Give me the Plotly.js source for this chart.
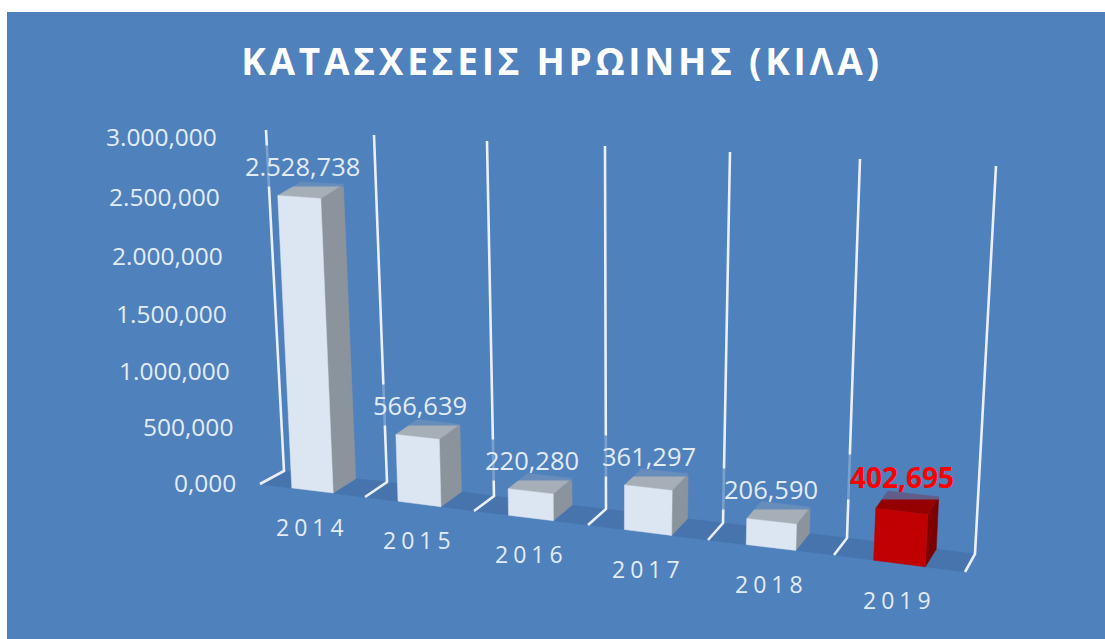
<!DOCTYPE html>
<html>
<head>
<meta charset="utf-8">
<script src="https://cdn.plot.ly/plotly-3.0.1.min.js"></script>
<style>
html,body{margin:0;padding:0;background:#fff;overflow:hidden}
#chart{width:1105px;height:639px}
.gtitle{letter-spacing:3.7px}
</style>
</head>
<body>
<div id="chart"></div>
<script>
// ---- data ----
const categories = ['2014','2015','2016','2017','2018','2019'];
const heroinKg = [2528738, 566639, 220280, 361297, 206590, 402695];
const valueLabels = ['2.528,738','566,639','220,280','361,297','206,590','402,695'];
const tickValues = [0, 500000, 1000000, 1500000, 2000000, 2500000, 3000000];
const tickLabels = ['0,000','500,000','1.000,000','1.500,000','2.000,000','2.500,000','3.000,000'];
const titleText = 'ΚΑΤΑΣΧΕΣΕΙΣ ΗΡΩΙΝΗΣ (ΚΙΛΑ)';

// ---- perspective calibration of the 3D box (screen pixels at each category boundary) ----
const axisMax = 3000000;
const wallTop  = [[266,130],[374,135],[487,141],[605,146],[730,152],[860,159],[996,166]];
const wallBase = [[284,471],[387,482],[494,496],[606,509],[723,523],[847,538],[975,554]];
const floorEdge= [[260,484],[365,497],[474,511],[588,525],[708,540],[834,555],[965,572]];
const barHalfWidth = 0.197;
const barHeightScale = 1.012;

function at(arr,u){
  const i=Math.min(Math.floor(u),arr.length-2), f=u-i;
  return [arr[i][0]+(arr[i+1][0]-arr[i][0])*f, arr[i][1]+(arr[i+1][1]-arr[i][1])*f];
}
function project(u,d,v){
  const b=at(wallBase,u), t=at(wallTop,u), e=at(floorEdge,u), h=barHeightScale*v/axisMax;
  return [b[0]+(e[0]-b[0])*d+h*(t[0]-b[0]), b[1]+(e[1]-b[1])*d+h*(t[1]-b[1])];
}
function poly(points,color,name){
  const pts=points.concat([points[0]]);
  return {type:'scatter',mode:'lines',x:pts.map(p=>p[0]),y:pts.map(p=>p[1]),fill:'toself',
    fillcolor:color,line:{color:color,width:0.5},hoverinfo:'skip',showlegend:false,name:name};
}

const traces=[];
// floor
const floorPts=wallBase.concat(floorEdge.slice().reverse());
traces.push(poly(floorPts,'#4774ad','floor'));
// grid lines
wallTop.forEach((t,i)=>{
  traces.push({type:'scatter',mode:'lines',x:[t[0],wallBase[i][0],floorEdge[i][0]],y:[t[1],wallBase[i][1],floorEdge[i][1]],
    line:{color:'rgba(242,246,252,0.95)',width:2.6},hoverinfo:'skip',showlegend:false});
});
// columns
heroinKg.forEach((v,i)=>{
  const c=i+0.5, L=c-barHalfWidth, R=c+barHalfWidth;
  const red=i===heroinKg.length-1;
  const colFront=red?'#c00000':'#dce6f2', colSide=red?'#7c0000':'#8b949d', colTop=red?'#950000':'#a6afb7';
  traces.push(poly([project(R,1,v),project(R,1,0),project(R,0,0),project(R,0,v)],colSide,categories[i]+' side'));
  traces.push(poly([project(L,1,v),project(R,1,v),project(R,0,v),project(L,0,v)],colTop,categories[i]+' top'));
  traces.push(poly([project(L,1,v),project(R,1,v),project(R,1,0),project(L,1,0)],colFront,categories[i]));
});

const textColor='#e3ebf5', labelFont='"Open Sans", sans-serif';
const annotations=[];
// value labels with their translucent box
heroinKg.forEach((v,i)=>{
  const top=project(i+0.5,0.5,v), red=i===heroinKg.length-1;
  annotations.push({x:top[0]-(red?6:8),y:top[1]-(red?26:24),xref:'x',yref:'y',text:valueLabels[i],showarrow:false,
    xanchor:'center',yanchor:'middle',bgcolor:'rgba(79,129,189,0.72)',borderpad:3,
    font:{family:labelFont,size:red?28:25.5,color:red?'#ff0000':textColor,weight:red?700:400}});
});
// category labels
categories.forEach((c,i)=>{
  const e=project(i+0.5,1,0);
  annotations.push({x:e[0],y:e[1]+36,xref:'x',yref:'y',text:c,showarrow:false,xanchor:'center',yanchor:'middle',
    font:{family:labelFont,size:23,color:textColor}});
});
// value-axis labels
tickValues.forEach((v,i)=>{
  const h=v/axisMax, f=h*(1-0.054)/(1-0.054*h);
  annotations.push({x:238+(219-238)*h,y:482+(136-482)*f,xref:'x',yref:'y',text:tickLabels[i],showarrow:false,
    xanchor:'right',yanchor:'middle',font:{family:labelFont,size:24.5,color:textColor}});
});

const layout={
  width:1105,height:639,margin:{l:7,r:0,t:12,b:0,pad:0},
  paper_bgcolor:'#ffffff',plot_bgcolor:'#4f81bd',showlegend:false,hovermode:false,
  title:{text:titleText,x:562/1105,xref:'container',xanchor:'center',y:1-62/639,yref:'container',yanchor:'middle',
    font:{family:labelFont,size:37,color:'#ffffff',weight:700}},
  xaxis:{range:[7,1105],visible:false,fixedrange:true},
  yaxis:{range:[639,12],visible:false,fixedrange:true},
  annotations:annotations
};
Plotly.newPlot('chart',traces,layout,{displayModeBar:false,staticPlot:true}).then(()=>{
  document.querySelectorAll('.annotation-text').forEach(el=>{
    if(categories.indexOf(el.textContent)>=0) el.style.letterSpacing='5px';
  });
});
</script>
</body>
</html>
